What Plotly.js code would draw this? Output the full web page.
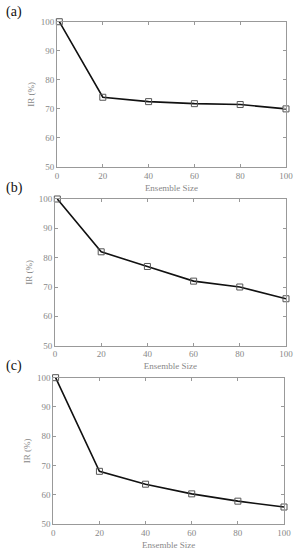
<!DOCTYPE html>
<html>
<head>
<meta charset="utf-8">
<script src="https://cdn.plot.ly/plotly-3.0.1.min.js"></script>
<style>html,body{margin:0;padding:0;background:#fff}#chart{width:296px;height:550px}</style>
</head>
<body>
<div id="chart"></div>
<script>
const ensembleSize = [1, 20, 40, 60, 80, 100];
const irA = [100, 74, 72.5, 71.8, 71.5, 70];
const irB = [100, 82, 77, 72, 70, 66];
const irC = [100, 68, 63.6, 60.3, 57.8, 55.8];
const panelLabels = ['(a)', '(b)', '(c)'];
const xTickVals = [0, 20, 40, 60, 80, 100];
const yTickVals = [50, 60, 70, 80, 90, 100];

const series = [irA, irB, irC];
const xDomains = [[0.1926, 0.9662], [0.1858, 0.9662], [0.1800, 0.9595]];
const yDomains = [[0.6964, 0.9605], [0.3715, 0.6382], [0.0473, 0.3133]];
const labelY = [12, 188, 366];

const tickFont = {family: 'Liberation Serif, Times New Roman, serif', size: 9, color: '#888'};
const traces = [];
const layout = {
  width: 296, height: 550,
  margin: {l: 0, r: 0, t: 0, b: 0},
  paper_bgcolor: '#fff', plot_bgcolor: '#fff',
  showlegend: false,
  annotations: []
};
series.forEach((ys, i) => {
  const sfx = i === 0 ? '' : String(i + 1);
  traces.push({
    x: ensembleSize, y: ys, xaxis: 'x' + sfx, yaxis: 'y' + sfx,
    type: 'scatter', mode: 'lines+markers',
    line: {color: '#111', width: 1.6},
    marker: {symbol: 'square-open', size: 6, color: '#555', line: {width: 1}},
    cliponaxis: false
  });
  const common = {
    showline: true, linecolor: '#999', linewidth: 1, mirror: 'ticks',
    ticks: 'inside', ticklen: 3, tickcolor: '#999', tickwidth: 1,
    showgrid: false, zeroline: false, tickfont: tickFont
  };
  layout['xaxis' + sfx] = Object.assign({}, common, {
    domain: xDomains[i], range: [0, 100], tickvals: xTickVals, anchor: 'y' + sfx,
    title: {text: 'Ensemble Size', font: tickFont, standoff: 4}
  });
  layout['yaxis' + sfx] = Object.assign({}, common, {
    domain: yDomains[i], range: [50, 100], tickvals: yTickVals, anchor: 'x' + sfx,
    title: {text: 'IR (%)', font: tickFont, standoff: 4}
  });
  layout.annotations.push({
    text: panelLabels[i], xref: 'paper', yref: 'paper',
    x: 4 / 296, y: 1 - labelY[i] / 550, xanchor: 'left', yanchor: 'middle',
    showarrow: false, font: {family: 'Liberation Serif, Times New Roman, serif', size: 14, color: '#111'}
  });
});
Plotly.newPlot('chart', traces, layout, {staticPlot: true, displayModeBar: false});
</script>
</body>
</html>
